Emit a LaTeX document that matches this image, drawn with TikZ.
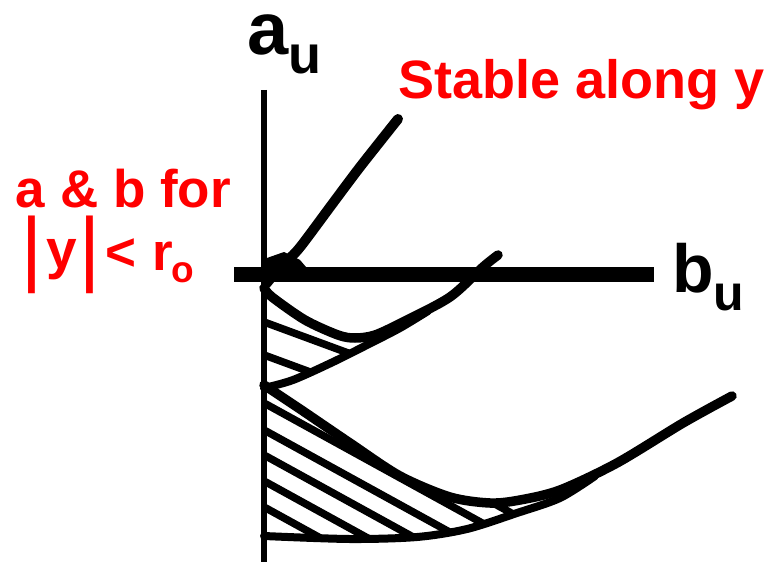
\documentclass[tikz,border=0pt]{standalone}
\usepackage{fontspec}
\setmainfont{Liberation Sans}
\definecolor{lblred}{RGB}{255,0,0}
\begin{document}
\begin{tikzpicture}[x=1pt,y=-1pt,line cap=round,line join=round,
  curve/.style={line width=9.5pt},
  hatchline/.style={line width=7.5pt},
  lbl/.style={inner sep=0pt,outer sep=0pt}]
\useasboundingbox (0,0) rectangle (767,564);
\fill[white] (0,0) rectangle (767,564);
% axes
\coordinate (vtop) at (264,90);
\coordinate (vbot) at (264,562);
\coordinate (hl) at (234,274.5);
\coordinate (hr) at (654,274.5);
% hatching of the lower region
\begin{scope}
\clip plot[smooth] coordinates {(264,385)(300,409)(350,443)(400,476)(450,497)(490,503)(520,500)(560,490)(595,474)}
  -- plot[smooth] coordinates {(595,474)(560,498)(517,513)(467,529)(417,537)(350,539)(264,536)} -- cycle;
\foreach \yy in {377,403,430,455,481,507}
  \draw[hatchline] (244,{\yy-11}) -- (664,{\yy+220});
\end{scope}
% hatching of the upper region
\begin{scope}
\clip plot[smooth] coordinates {(264,288)(272,297)(305,320)(338,335)(355,338)(375,335)(405,321)(428,310)}
  -- plot[smooth] coordinates {(428,310)(400,328)(367,345)(333,362)(293,380)(264,388)} -- cycle;
\foreach \yy in {322,355}
  \draw[hatchline] (244,{\yy-7.4}) -- (500,{\yy+87});
\end{scope}
% curves
\draw[curve,line width=10pt] plot[smooth] coordinates {(266,284)(277,271)(288,260)(301,246)(333,203)(360,167)(398,119)};
\fill (264,267) -- (264,259) -- (284,252) -- (300,260) -- (306,267) -- cycle;
\draw[curve] plot[smooth] coordinates {(264,288)(272,297)(305,320)(338,335)(355,338)(375,335)(405,321)(450,297)(483,267)(498,255)};
\draw[curve,line width=8pt] plot[smooth] coordinates {(264,388)(293,380)(333,362)(367,345)(400,328)(428,311)};
\draw[curve] plot[smooth] coordinates {(264,385)(300,409)(350,443)(400,476)(450,497)(490,503)(520,500)(560,490)(617,463)(683,423)(732,396)};
\draw[curve,line width=8pt] plot[smooth] coordinates {(264,536)(350,539)(417,537)(467,529)(517,513)(560,498)(595,476)};
\draw[line width=6.5pt,line cap=butt] (vtop) -- (vbot);
\draw[line width=15pt,line cap=butt] (hl) -- (hr);
% labels
\node[lbl,anchor=base west] (au) at (247,55) {\bfseries\fontsize{74}{74}\selectfont\raisebox{0pt}[42pt][0pt]{a}\raisebox{-19pt}{\fontsize{54}{54}\selectfont u}};
\node[lbl,anchor=base west] (bu) at (672,292) {\bfseries\fontsize{68}{68}\selectfont b\raisebox{-18pt}{\fontsize{50}{50}\selectfont u}};
\node[lbl,anchor=base west,text=lblred] (stable) at (398,99) {\bfseries\fontsize{54}{54}\selectfont Stable along y};
\node[lbl,anchor=base west,text=lblred] (ab) at (16,207) {\bfseries\fontsize{53}{53}\selectfont a \& b for};
\node[lbl,anchor=base,text=lblred] (bar1) at (32,275) {\bfseries\fontsize{53}{53}\selectfont\raisebox{0pt}[54pt][17pt]{\scalebox{1}[1.55]{|}}};
\node[lbl,anchor=base,text=lblred] (ylet) at (62,268) {\bfseries\fontsize{55}{55}\selectfont y};
\node[lbl,anchor=base,text=lblred] (bar2) at (90,275) {\bfseries\fontsize{53}{53}\selectfont\raisebox{0pt}[54pt][17pt]{\scalebox{1}[1.55]{|}}};
\node[lbl,anchor=base,text=lblred] (lt) at (121,270) {\bfseries\fontsize{53}{53}\selectfont <};
\node[lbl,anchor=base,text=lblred] (rlet) at (163,270) {\bfseries\fontsize{53}{53}\selectfont r};
\node[lbl,anchor=base,text=lblred] (osub) at (183,282) {\bfseries\fontsize{37}{37}\selectfont o};
\end{tikzpicture}
\end{document}
